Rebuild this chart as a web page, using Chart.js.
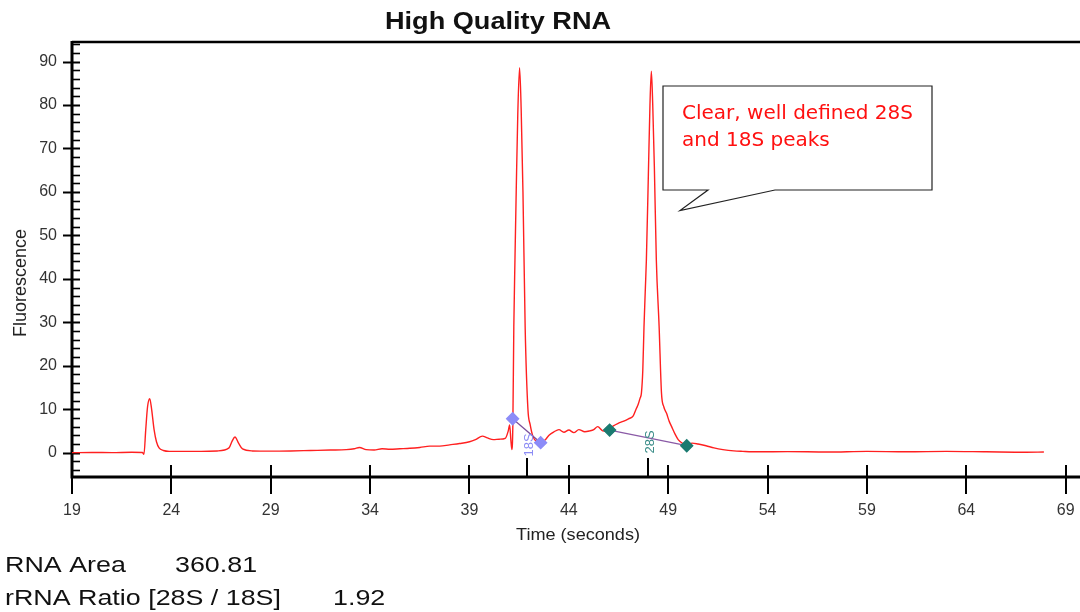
<!DOCTYPE html>
<html>
<head>
<meta charset="utf-8">
<title>High Quality RNA</title>
<script src="https://cdn.jsdelivr.net/npm/chart.js@4.4.1/dist/chart.umd.min.js"></script>
<style>
    html, body { margin: 0; padding: 0; background: #ffffff; }
    #chartCanvas { display: block; }
</style>
</head>
<body>
<canvas id="chartCanvas" width="1080" height="612"></canvas>
<script>
// Electropherogram trace (time in seconds, fluorescence units)
const timeSec = [
    19.0, 20.0, 21.0, 22.0, 22.54, 22.62, 22.71, 22.8, 22.91, 23.0, 23.13, 23.25, 23.38, 23.6, 23.89,
    24.5, 25.5, 26.3, 26.9, 27.05, 27.2, 27.38, 27.58, 28.08, 29.0, 30.0, 31.0, 32.0, 32.8,
    33.2, 33.46, 33.8, 34.2, 34.6, 35.0, 35.5, 36.0, 36.5, 37.0, 37.5, 38.0, 38.5, 39.0,
    39.3, 39.65, 39.9, 40.2, 40.5, 40.8, 40.95, 41.02, 41.08, 41.13, 41.18, 41.23, 41.29,
    41.35, 41.43, 41.52, 41.6, 41.69, 41.8, 41.94, 42.05, 42.19, 42.4, 42.6, 42.8, 43.0,
    43.25, 43.5, 43.75, 44.0, 44.25, 44.5, 44.8, 45.05, 45.25, 45.45, 45.7, 45.9, 46.05,
    46.22, 46.5, 46.73, 47.0, 47.23, 47.4, 47.48, 47.58, 47.65, 47.72, 47.78, 47.85, 47.9,
    48.0, 48.08, 48.15, 48.22, 48.3, 48.4, 48.54, 48.66, 48.78, 48.91, 49.05, 49.16, 49.35,
    49.5, 49.7, 49.93, 50.2, 50.5, 50.9, 51.3, 51.75, 52.3, 52.75, 53.5, 55.0, 57.0, 59.0,
    61.0, 63.0, 65.0, 67.0, 67.9
];
const fluorescence = [
    0.0, 0.05, 0.0, 0.1, 0.05, -0.4, 5.3, 10.5, 12.4, 10.2, 5.3, 2.5, 1.1, 0.5, 0.3,
    0.3, 0.3, 0.4, 1.1, 2.6, 3.6, 2.2, 0.85, 0.4, 0.35, 0.4, 0.5, 0.6, 0.7,
    0.9, 1.2, 0.7, 0.6, 0.9, 0.8, 0.9, 1.0, 1.2, 1.5, 1.5, 1.8, 2.1, 2.5,
    3.0, 3.8, 3.4, 3.0, 3.1, 3.3, 5.0, 6.4, 3.0, 0.7, 6.0, 29.0, 45.0,
    60.0, 78.0, 88.6, 79.0, 60.0, 29.0, 10.0, 6.5, 3.75, 2.5, 2.2, 2.9, 4.0,
    4.8, 5.3, 4.7, 5.2, 4.6, 5.3, 4.8, 5.0, 5.3, 6.0, 5.0, 4.9, 5.3,
    6.1, 6.8, 7.2, 7.8, 8.4, 10.2, 11.0, 12.5, 13.7, 19.0, 29.0, 38.0, 44.4,
    64.0, 80.0, 87.8, 80.0, 66.0, 44.4, 29.1, 13.7, 10.5, 9.1, 7.2, 6.1, 4.2,
    3.0, 2.2, 1.7, 2.2, 2.0, 1.6, 1.1, 0.7, 0.4, 0.3, 0.2, 0.25, 0.15, 0.3,
    0.2, 0.3, 0.2, 0.1, 0.15
];

// Peak region markers (start / end of each ribosomal peak)
const peak18sTime = [41.17, 42.58];
const peak18sValue = [7.8, 2.3];
const peak28sTime = [46.05, 49.93];
const peak28sValue = [5.2, 1.6];

// Peak position ticks on the time axis
const peakNames = ['18S', '28S'];
const peakTimes = [41.87, 47.97];

// Axis ticks
const xTicks = [19, 24, 29, 34, 39, 44, 49, 54, 59, 64, 69];
const yTicks = [0, 10, 20, 30, 40, 50, 60, 70, 80, 90];

// Summary text under the plot
const statLabels = ['RNA Area', 'rRNA Ratio [28S / 18S]'];
const statValues = ['360.81', '1.92'];

const ARIAL = '"Liberation Sans", Arial, sans-serif';

function toPoints(xs, ys) {
    return xs.map((x, i) => ({ x: x, y: ys[i] }));
}

// Draw text widened horizontally like the source image
function stretchedText(ctx, text, x, y, sx, align) {
    ctx.save();
    ctx.translate(x, y);
    ctx.scale(sx, 1);
    ctx.textAlign = align || 'left';
    ctx.fillText(text, 0, 0);
    ctx.restore();
}

// Frame, tick marks, labels and the callout
const decorPlugin = {
    id: 'decor',
    beforeDatasetsDraw(chart) {
        const ctx = chart.ctx;
        const area = chart.chartArea;
        const xs = chart.scales.x;
        const ys = chart.scales.y;
        const farRight = chart.width + 5;

        ctx.save();
        ctx.strokeStyle = '#000000';
        ctx.lineCap = 'butt';

        // plot frame (its right side runs off the picture)
        ctx.lineWidth = 2.5;
        ctx.beginPath();
        ctx.moveTo(farRight, area.top);
        ctx.lineTo(area.left, area.top);
        ctx.stroke();
        ctx.lineWidth = 3;
        ctx.beginPath();
        ctx.moveTo(area.left, area.top - 1);
        ctx.lineTo(area.left, area.bottom);
        ctx.lineTo(farRight, area.bottom);
        ctx.stroke();

        // y ticks: majors cross the axis, minors every 2 inside
        for (let v = -4; v <= 94; v += 2) {
            const py = Math.round(ys.getPixelForValue(v)) + 0.5;
            const major = yTicks.includes(v);
            ctx.lineWidth = major ? 2 : 1.6;
            ctx.beginPath();
            ctx.moveTo(major ? area.left - 9 : area.left, py);
            ctx.lineTo(area.left + 8, py);
            ctx.stroke();
        }

        // x ticks
        ctx.lineWidth = 2;
        xTicks.forEach(v => {
            const px = Math.round(xs.getPixelForValue(v));
            ctx.beginPath();
            ctx.moveTo(px, area.bottom - 12);
            ctx.lineTo(px, area.bottom + 17);
            ctx.stroke();
        });

        // peak position ticks
        peakTimes.forEach(v => {
            const px = Math.round(xs.getPixelForValue(v));
            ctx.beginPath();
            ctx.moveTo(px, area.bottom - 19);
            ctx.lineTo(px, area.bottom);
            ctx.stroke();
        });
        ctx.restore();
    },
    afterDraw(chart) {
        const ctx = chart.ctx;
        const xs = chart.scales.x;

        ctx.save();
        ctx.textBaseline = 'alphabetic';

        // title
        ctx.fillStyle = '#111111';
        ctx.font = 'bold 23px ' + ARIAL;
        stretchedText(ctx, 'High Quality RNA', 498, 29, 1.18, 'center');

        // axis titles
        ctx.fillStyle = '#222222';
        ctx.font = '16px ' + ARIAL;
        stretchedText(ctx, 'Time (seconds)', 578, 540, 1.13, 'center');

        ctx.save();
        ctx.translate(26, 283);
        ctx.rotate(-Math.PI / 2);
        ctx.font = '18px ' + ARIAL;
        ctx.textAlign = 'center';
        ctx.fillText('Fluorescence', 0, 0);
        ctx.restore();

        // peak names, rotated along the peak ticks
        const peakColors = ['#8c8cf5', '#3a8c88'];
        const peakCenters = [445, 442];
        ctx.font = '13px ' + ARIAL;
        peakNames.forEach((name, i) => {
            const px = xs.getPixelForValue(peakTimes[i]);
            ctx.save();
            ctx.translate(px + 3, peakCenters[i]);
            ctx.rotate(-Math.PI / 2);
            ctx.fillStyle = peakColors[i];
            ctx.textAlign = 'center';
            ctx.textBaseline = 'middle';
            ctx.fillText(name, 0, 0);
            ctx.restore();
        });

        // callout box
        ctx.fillStyle = '#ffffff';
        ctx.strokeStyle = '#222222';
        ctx.lineWidth = 1.2;
        ctx.beginPath();
        ctx.moveTo(663, 86);
        ctx.lineTo(932, 86);
        ctx.lineTo(932, 190);
        ctx.lineTo(775, 190);
        ctx.lineTo(680, 210.5);
        ctx.lineTo(708, 190);
        ctx.lineTo(663, 190);
        ctx.closePath();
        ctx.fill();
        ctx.stroke();

        ctx.fillStyle = '#ff1010';
        ctx.font = '20px "DejaVu Sans", sans-serif';
        ctx.textAlign = 'left';
        ctx.fillText('Clear, well defined 28S', 682, 119);
        ctx.fillText('and 18S peaks', 682, 146);

        // summary rows
        ctx.fillStyle = '#111111';
        ctx.font = '22px ' + ARIAL;
        const valueX = [175, 333];
        const rowY = [572, 605];
        statLabels.forEach((label, i) => {
            stretchedText(ctx, label, 5, rowY[i], 1.22, 'left');
            stretchedText(ctx, statValues[i], valueX[i], rowY[i], 1.22, 'left');
        });
        ctx.restore();
    }
};

let rnaChart = null;

window.onload = function() {
    const ctx = document.getElementById('chartCanvas').getContext('2d');

    rnaChart = new Chart(ctx, {
        type: 'scatter',
        data: {
            datasets: [
                {
                    label: 'Trace',
                    data: toPoints(timeSec, fluorescence),
                    showLine: true,
                    borderColor: '#ff2020',
                    borderWidth: 1.4,
                    pointRadius: 0,
                    cubicInterpolationMode: 'monotone',
                    order: 2
                },
                {
                    label: '18S',
                    data: toPoints(peak18sTime, peak18sValue),
                    showLine: true,
                    borderColor: '#7a4e9a',
                    borderWidth: 1.3,
                    pointStyle: 'rectRot',
                    pointRadius: 6,
                    pointBackgroundColor: '#8c8cf8',
                    pointBorderColor: '#8c8cf8',
                    order: 1
                },
                {
                    label: '28S',
                    data: toPoints(peak28sTime, peak28sValue),
                    showLine: true,
                    borderColor: '#8a5aa6',
                    borderWidth: 1.3,
                    pointStyle: 'rectRot',
                    pointRadius: 6,
                    pointBackgroundColor: '#1a7a70',
                    pointBorderColor: '#1a7a70',
                    order: 1
                }
            ]
        },
        options: {
            responsive: false,
            animation: false,
            layout: {
                padding: { top: 42, right: 0, bottom: 0, left: 0 }
            },
            plugins: {
                legend: { display: false },
                tooltip: { enabled: false },
                title: { display: false }
            },
            scales: {
                x: {
                    type: 'linear',
                    min: 19,
                    max: 69.35,
                    afterBuildTicks: function(scale) {
                        scale.ticks = xTicks.map(v => ({ value: v }));
                    },
                    afterFit: function(scale) {
                        scale.height = 135;
                        scale.paddingLeft = 0;
                        scale.paddingRight = 0;
                    },
                    grid: { display: false, drawTicks: false },
                    border: { display: false },
                    ticks: {
                        padding: 24,
                        autoSkip: false,
                        maxRotation: 0,
                        color: '#333333',
                        font: { family: ARIAL, size: 16 }
                    }
                },
                y: {
                    type: 'linear',
                    min: -5.6,
                    max: 94.5,
                    afterBuildTicks: function(scale) {
                        scale.ticks = yTicks.map(v => ({ value: v }));
                    },
                    afterFit: function(scale) {
                        scale.width = 72;
                        scale.paddingTop = 0;
                        scale.paddingBottom = 0;
                    },
                    grid: { display: false, drawTicks: false },
                    border: { display: false },
                    ticks: {
                        padding: 15,
                        color: '#333333',
                        font: { family: ARIAL, size: 16 }
                    }
                }
            }
        },
        plugins: [decorPlugin]
    });
};
</script>
</body>
</html>
